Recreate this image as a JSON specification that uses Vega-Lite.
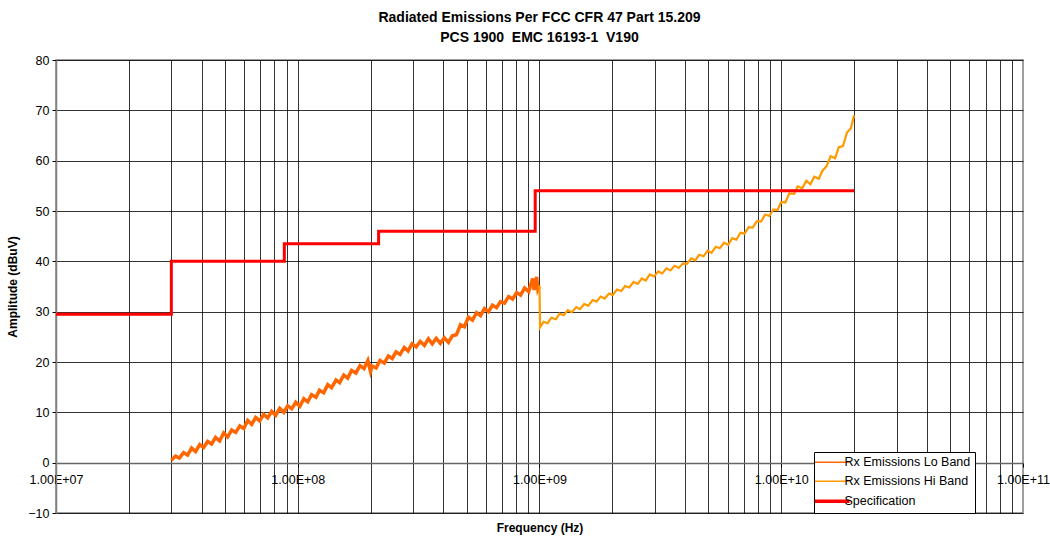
{
  "$schema": "https://vega.github.io/schema/vega-lite/v6.json",
  "autosize": "none",
  "width": 967,
  "height": 453,
  "padding": {"left": 56, "top": 60, "right": 27, "bottom": 33},
  "background": "white",
  "config": {
    "font": "Liberation Sans",
    "view": {"stroke": "#808080", "strokeWidth": 1.5},
    "axis": {"labelFont": "Liberation Sans", "titleFont": "Liberation Sans", "labelFontSize": 12.5, "titleFontSize": 12, "labelColor": "#000", "titleColor": "#000"}
  },
  "title": {
    "text": ["Radiated Emissions Per FCC CFR 47 Part 15.209", "PCS 1900\u00a0 EMC 16193-1\u00a0 V190"],
    "fontSize": 14,
    "fontWeight": "bold",
    "font": "Liberation Sans",
    "color": "#000",
    "anchor": "middle",
    "frame": "group",
    "lineHeight": 20,
    "offset": 9
  },
  "datasets": {
    "em": [
      {"series": "Rx Emissions Lo Band", "f": 3.00e7, "v": 0.5},
      {"series": "Rx Emissions Lo Band", "f": 3.12e7, "v": 1.3},
      {"series": "Rx Emissions Lo Band", "f": 3.24e7, "v": 0.9},
      {"series": "Rx Emissions Lo Band", "f": 3.37e7, "v": 2.0},
      {"series": "Rx Emissions Lo Band", "f": 3.50e7, "v": 1.5},
      {"series": "Rx Emissions Lo Band", "f": 3.64e7, "v": 2.9},
      {"series": "Rx Emissions Lo Band", "f": 3.78e7, "v": 2.2},
      {"series": "Rx Emissions Lo Band", "f": 3.93e7, "v": 3.6},
      {"series": "Rx Emissions Lo Band", "f": 4.08e7, "v": 3.0},
      {"series": "Rx Emissions Lo Band", "f": 4.24e7, "v": 4.2},
      {"series": "Rx Emissions Lo Band", "f": 4.40e7, "v": 3.7},
      {"series": "Rx Emissions Lo Band", "f": 4.57e7, "v": 5.0},
      {"series": "Rx Emissions Lo Band", "f": 4.75e7, "v": 4.3},
      {"series": "Rx Emissions Lo Band", "f": 4.94e7, "v": 5.9},
      {"series": "Rx Emissions Lo Band", "f": 5.13e7, "v": 5.1},
      {"series": "Rx Emissions Lo Band", "f": 5.33e7, "v": 6.5},
      {"series": "Rx Emissions Lo Band", "f": 5.54e7, "v": 6.0},
      {"series": "Rx Emissions Lo Band", "f": 5.76e7, "v": 7.3},
      {"series": "Rx Emissions Lo Band", "f": 5.98e7, "v": 6.8},
      {"series": "Rx Emissions Lo Band", "f": 6.21e7, "v": 8.4},
      {"series": "Rx Emissions Lo Band", "f": 6.45e7, "v": 7.6},
      {"series": "Rx Emissions Lo Band", "f": 6.70e7, "v": 9.0},
      {"series": "Rx Emissions Lo Band", "f": 6.96e7, "v": 8.3},
      {"series": "Rx Emissions Lo Band", "f": 7.23e7, "v": 9.6},
      {"series": "Rx Emissions Lo Band", "f": 7.51e7, "v": 8.9},
      {"series": "Rx Emissions Lo Band", "f": 7.80e7, "v": 10.2},
      {"series": "Rx Emissions Lo Band", "f": 8.10e7, "v": 9.4},
      {"series": "Rx Emissions Lo Band", "f": 8.42e7, "v": 10.8},
      {"series": "Rx Emissions Lo Band", "f": 8.75e7, "v": 10.0},
      {"series": "Rx Emissions Lo Band", "f": 9.09e7, "v": 11.3},
      {"series": "Rx Emissions Lo Band", "f": 9.44e7, "v": 10.7},
      {"series": "Rx Emissions Lo Band", "f": 9.81e7, "v": 12.0},
      {"series": "Rx Emissions Lo Band", "f": 1.02e8, "v": 11.2},
      {"series": "Rx Emissions Lo Band", "f": 1.06e8, "v": 12.7},
      {"series": "Rx Emissions Lo Band", "f": 1.10e8, "v": 12.1},
      {"series": "Rx Emissions Lo Band", "f": 1.14e8, "v": 13.5},
      {"series": "Rx Emissions Lo Band", "f": 1.19e8, "v": 13.0},
      {"series": "Rx Emissions Lo Band", "f": 1.23e8, "v": 14.4},
      {"series": "Rx Emissions Lo Band", "f": 1.28e8, "v": 13.9},
      {"series": "Rx Emissions Lo Band", "f": 1.33e8, "v": 15.5},
      {"series": "Rx Emissions Lo Band", "f": 1.38e8, "v": 14.9},
      {"series": "Rx Emissions Lo Band", "f": 1.44e8, "v": 16.4},
      {"series": "Rx Emissions Lo Band", "f": 1.49e8, "v": 15.9},
      {"series": "Rx Emissions Lo Band", "f": 1.55e8, "v": 17.4},
      {"series": "Rx Emissions Lo Band", "f": 1.61e8, "v": 16.8},
      {"series": "Rx Emissions Lo Band", "f": 1.67e8, "v": 18.3},
      {"series": "Rx Emissions Lo Band", "f": 1.74e8, "v": 17.8},
      {"series": "Rx Emissions Lo Band", "f": 1.81e8, "v": 19.3},
      {"series": "Rx Emissions Lo Band", "f": 1.88e8, "v": 18.7},
      {"series": "Rx Emissions Lo Band", "f": 1.95e8, "v": 20.3},
      {"series": "Rx Emissions Lo Band", "f": 2.00e8, "v": 18.1},
      {"series": "Rx Emissions Lo Band", "f": 2.03e8, "v": 19.2},
      {"series": "Rx Emissions Lo Band", "f": 2.11e8, "v": 18.8},
      {"series": "Rx Emissions Lo Band", "f": 2.19e8, "v": 20.3},
      {"series": "Rx Emissions Lo Band", "f": 2.28e8, "v": 19.8},
      {"series": "Rx Emissions Lo Band", "f": 2.37e8, "v": 21.2},
      {"series": "Rx Emissions Lo Band", "f": 2.46e8, "v": 20.7},
      {"series": "Rx Emissions Lo Band", "f": 2.55e8, "v": 22.0},
      {"series": "Rx Emissions Lo Band", "f": 2.65e8, "v": 21.5},
      {"series": "Rx Emissions Lo Band", "f": 2.76e8, "v": 22.9},
      {"series": "Rx Emissions Lo Band", "f": 2.86e8, "v": 22.2},
      {"series": "Rx Emissions Lo Band", "f": 2.97e8, "v": 23.6},
      {"series": "Rx Emissions Lo Band", "f": 3.09e8, "v": 23.0},
      {"series": "Rx Emissions Lo Band", "f": 3.21e8, "v": 24.1},
      {"series": "Rx Emissions Lo Band", "f": 3.34e8, "v": 23.3},
      {"series": "Rx Emissions Lo Band", "f": 3.47e8, "v": 24.6},
      {"series": "Rx Emissions Lo Band", "f": 3.60e8, "v": 23.6},
      {"series": "Rx Emissions Lo Band", "f": 3.74e8, "v": 24.7},
      {"series": "Rx Emissions Lo Band", "f": 3.89e8, "v": 23.7},
      {"series": "Rx Emissions Lo Band", "f": 4.04e8, "v": 24.8},
      {"series": "Rx Emissions Lo Band", "f": 4.20e8, "v": 23.9},
      {"series": "Rx Emissions Lo Band", "f": 4.36e8, "v": 25.2},
      {"series": "Rx Emissions Lo Band", "f": 4.53e8, "v": 25.4},
      {"series": "Rx Emissions Lo Band", "f": 4.71e8, "v": 27.4},
      {"series": "Rx Emissions Lo Band", "f": 4.89e8, "v": 27.0},
      {"series": "Rx Emissions Lo Band", "f": 5.08e8, "v": 28.9},
      {"series": "Rx Emissions Lo Band", "f": 5.28e8, "v": 28.3},
      {"series": "Rx Emissions Lo Band", "f": 5.49e8, "v": 29.8},
      {"series": "Rx Emissions Lo Band", "f": 5.70e8, "v": 29.2},
      {"series": "Rx Emissions Lo Band", "f": 5.92e8, "v": 30.6},
      {"series": "Rx Emissions Lo Band", "f": 6.15e8, "v": 30.0},
      {"series": "Rx Emissions Lo Band", "f": 6.39e8, "v": 31.3},
      {"series": "Rx Emissions Lo Band", "f": 6.64e8, "v": 30.8},
      {"series": "Rx Emissions Lo Band", "f": 6.90e8, "v": 32.0},
      {"series": "Rx Emissions Lo Band", "f": 7.17e8, "v": 31.7},
      {"series": "Rx Emissions Lo Band", "f": 7.45e8, "v": 33.0},
      {"series": "Rx Emissions Lo Band", "f": 7.74e8, "v": 32.5},
      {"series": "Rx Emissions Lo Band", "f": 8.04e8, "v": 33.8},
      {"series": "Rx Emissions Lo Band", "f": 8.36e8, "v": 33.3},
      {"series": "Rx Emissions Lo Band", "f": 8.68e8, "v": 34.7},
      {"series": "Rx Emissions Lo Band", "f": 9.02e8, "v": 34.0},
      {"series": "Rx Emissions Lo Band", "f": 9.37e8, "v": 36.6},
      {"series": "Rx Emissions Lo Band", "f": 9.50e8, "v": 34.3},
      {"series": "Rx Emissions Lo Band", "f": 9.73e8, "v": 36.9},
      {"series": "Rx Emissions Lo Band", "f": 9.85e8, "v": 34.4},
      {"series": "Rx Emissions Lo Band", "f": 9.98e8, "v": 35.0},
      {"series": "Rx Emissions Hi Band", "f": 1.000e9, "v": 35.2},
      {"series": "Rx Emissions Hi Band", "f": 1.005e9, "v": 26.9},
      {"series": "Rx Emissions Hi Band", "f": 1.04e9, "v": 28.0},
      {"series": "Rx Emissions Hi Band", "f": 1.08e9, "v": 27.7},
      {"series": "Rx Emissions Hi Band", "f": 1.12e9, "v": 28.8},
      {"series": "Rx Emissions Hi Band", "f": 1.17e9, "v": 28.5},
      {"series": "Rx Emissions Hi Band", "f": 1.21e9, "v": 29.6},
      {"series": "Rx Emissions Hi Band", "f": 1.26e9, "v": 29.3},
      {"series": "Rx Emissions Hi Band", "f": 1.31e9, "v": 30.3},
      {"series": "Rx Emissions Hi Band", "f": 1.36e9, "v": 29.9},
      {"series": "Rx Emissions Hi Band", "f": 1.42e9, "v": 30.9},
      {"series": "Rx Emissions Hi Band", "f": 1.47e9, "v": 30.5},
      {"series": "Rx Emissions Hi Band", "f": 1.53e9, "v": 31.5},
      {"series": "Rx Emissions Hi Band", "f": 1.59e9, "v": 31.2},
      {"series": "Rx Emissions Hi Band", "f": 1.66e9, "v": 32.3},
      {"series": "Rx Emissions Hi Band", "f": 1.72e9, "v": 32.0},
      {"series": "Rx Emissions Hi Band", "f": 1.79e9, "v": 33.0},
      {"series": "Rx Emissions Hi Band", "f": 1.86e9, "v": 32.6},
      {"series": "Rx Emissions Hi Band", "f": 1.94e9, "v": 33.6},
      {"series": "Rx Emissions Hi Band", "f": 2.01e9, "v": 33.3},
      {"series": "Rx Emissions Hi Band", "f": 2.09e9, "v": 34.4},
      {"series": "Rx Emissions Hi Band", "f": 2.18e9, "v": 34.1},
      {"series": "Rx Emissions Hi Band", "f": 2.26e9, "v": 35.1},
      {"series": "Rx Emissions Hi Band", "f": 2.35e9, "v": 34.8},
      {"series": "Rx Emissions Hi Band", "f": 2.45e9, "v": 35.9},
      {"series": "Rx Emissions Hi Band", "f": 2.55e9, "v": 35.5},
      {"series": "Rx Emissions Hi Band", "f": 2.65e9, "v": 36.6},
      {"series": "Rx Emissions Hi Band", "f": 2.75e9, "v": 36.2},
      {"series": "Rx Emissions Hi Band", "f": 2.86e9, "v": 37.4},
      {"series": "Rx Emissions Hi Band", "f": 2.98e9, "v": 37.0},
      {"series": "Rx Emissions Hi Band", "f": 3.10e9, "v": 38.0},
      {"series": "Rx Emissions Hi Band", "f": 3.22e9, "v": 37.6},
      {"series": "Rx Emissions Hi Band", "f": 3.35e9, "v": 38.6},
      {"series": "Rx Emissions Hi Band", "f": 3.48e9, "v": 38.2},
      {"series": "Rx Emissions Hi Band", "f": 3.62e9, "v": 39.1},
      {"series": "Rx Emissions Hi Band", "f": 3.77e9, "v": 38.7},
      {"series": "Rx Emissions Hi Band", "f": 3.92e9, "v": 39.6},
      {"series": "Rx Emissions Hi Band", "f": 4.07e9, "v": 39.5},
      {"series": "Rx Emissions Hi Band", "f": 4.24e9, "v": 40.6},
      {"series": "Rx Emissions Hi Band", "f": 4.41e9, "v": 40.2},
      {"series": "Rx Emissions Hi Band", "f": 4.58e9, "v": 41.3},
      {"series": "Rx Emissions Hi Band", "f": 4.77e9, "v": 41.0},
      {"series": "Rx Emissions Hi Band", "f": 4.96e9, "v": 42.1},
      {"series": "Rx Emissions Hi Band", "f": 5.15e9, "v": 41.7},
      {"series": "Rx Emissions Hi Band", "f": 5.36e9, "v": 42.9},
      {"series": "Rx Emissions Hi Band", "f": 5.57e9, "v": 42.6},
      {"series": "Rx Emissions Hi Band", "f": 5.80e9, "v": 43.7},
      {"series": "Rx Emissions Hi Band", "f": 6.03e9, "v": 43.3},
      {"series": "Rx Emissions Hi Band", "f": 6.27e9, "v": 44.6},
      {"series": "Rx Emissions Hi Band", "f": 6.52e9, "v": 44.3},
      {"series": "Rx Emissions Hi Band", "f": 6.78e9, "v": 45.7},
      {"series": "Rx Emissions Hi Band", "f": 7.05e9, "v": 45.5},
      {"series": "Rx Emissions Hi Band", "f": 7.33e9, "v": 46.8},
      {"series": "Rx Emissions Hi Band", "f": 7.62e9, "v": 46.7},
      {"series": "Rx Emissions Hi Band", "f": 7.93e9, "v": 48.0},
      {"series": "Rx Emissions Hi Band", "f": 8.25e9, "v": 47.9},
      {"series": "Rx Emissions Hi Band", "f": 8.58e9, "v": 49.3},
      {"series": "Rx Emissions Hi Band", "f": 8.92e9, "v": 49.0},
      {"series": "Rx Emissions Hi Band", "f": 9.28e9, "v": 50.3},
      {"series": "Rx Emissions Hi Band", "f": 9.65e9, "v": 50.2},
      {"series": "Rx Emissions Hi Band", "f": 1.00e10, "v": 51.8},
      {"series": "Rx Emissions Hi Band", "f": 1.04e10, "v": 51.7},
      {"series": "Rx Emissions Hi Band", "f": 1.08e10, "v": 53.5},
      {"series": "Rx Emissions Hi Band", "f": 1.13e10, "v": 53.4},
      {"series": "Rx Emissions Hi Band", "f": 1.17e10, "v": 54.9},
      {"series": "Rx Emissions Hi Band", "f": 1.22e10, "v": 54.5},
      {"series": "Rx Emissions Hi Band", "f": 1.27e10, "v": 56.0},
      {"series": "Rx Emissions Hi Band", "f": 1.32e10, "v": 55.3},
      {"series": "Rx Emissions Hi Band", "f": 1.37e10, "v": 56.8},
      {"series": "Rx Emissions Hi Band", "f": 1.43e10, "v": 56.4},
      {"series": "Rx Emissions Hi Band", "f": 1.48e10, "v": 58.0},
      {"series": "Rx Emissions Hi Band", "f": 1.54e10, "v": 58.9},
      {"series": "Rx Emissions Hi Band", "f": 1.60e10, "v": 60.9},
      {"series": "Rx Emissions Hi Band", "f": 1.67e10, "v": 60.5},
      {"series": "Rx Emissions Hi Band", "f": 1.73e10, "v": 62.7},
      {"series": "Rx Emissions Hi Band", "f": 1.80e10, "v": 62.9},
      {"series": "Rx Emissions Hi Band", "f": 1.87e10, "v": 65.6},
      {"series": "Rx Emissions Hi Band", "f": 1.94e10, "v": 66.4},
      {"series": "Rx Emissions Hi Band", "f": 2.00e10, "v": 69.0}
    ],
    "spec": [
      {"series": "Specification", "f": 1.0e7, "v": 29.5},
      {"series": "Specification", "f": 3.0e7, "v": 40.0},
      {"series": "Specification", "f": 8.8e7, "v": 43.5},
      {"series": "Specification", "f": 2.16e8, "v": 46.0},
      {"series": "Specification", "f": 9.6e8, "v": 54.0},
      {"series": "Specification", "f": 2.0e10, "v": 54.0}
    ]
  },
  "encoding": {
    "y": {
      "field": "v",
      "type": "quantitative",
      "scale": {"domain": [-10, 80], "nice": false, "zero": false},
      "axis": {
        "values": [-10, 0, 10, 20, 30, 40, 50, 60, 70, 80],
        "grid": true,
        "gridColor": "#000",
        "gridOpacity": 0.8,
        "gridWidth": 1,
        "tickColor": "#000",
        "tickSize": 4,
        "labelPadding": 3,
        "domainColor": "#808080",
        "domainWidth": 1.5,
        "title": "Amplitude (dBuV)",
        "titleFontWeight": "bold",
        "titlePadding": 8
      }
    },
    "color": {
      "field": "series",
      "type": "nominal",
      "scale": {
        "domain": ["Rx Emissions Lo Band", "Rx Emissions Hi Band", "Specification"],
        "range": ["#FF6600", "#FF9900", "#FF0000"]
      },
      "legend": {
        "orient": "none",
        "legendX": 758,
        "legendY": 392,
        "title": null,
        "symbolType": "stroke",
        "symbolSize": 1200,
        "symbolOffset": 8,
        "symbolStrokeWidth": 1.4,
        "symbolOpacity": 1,
        "labelFont": "Liberation Sans",
        "labelFontSize": 12.5,
        "labelColor": "#000",
        "labelOffset": 6,
        "fillColor": "#fff",
        "strokeColor": "#000",
        "padding": 4,
        "rowPadding": 6,
        "encode": {"symbols": {"update": {"strokeWidth": {"signal": "datum.label === 'Specification' ? 3.5 : 1.4"}}}}
      }
    }
  },
  "layer": [
    {
      "data": {"name": "em"},
      "transform": [{"filter": "datum.series === 'Rx Emissions Lo Band'"}],
      "mark": {"type": "line", "strokeWidth": 3.5, "clip": true},
      "encoding": {
        "x": {
          "field": "f",
          "type": "quantitative",
          "scale": {"type": "log", "domain": [1e7, 1e11], "nice": false},
          "axis": {
            "orient": "bottom",
            "values": [2e7, 3e7, 4e7, 5e7, 6e7, 7e7, 8e7, 9e7, 1e8, 2e8, 3e8, 4e8, 5e8, 6e8, 7e8, 8e8, 9e8, 1e9, 2e9, 3e9, 4e9, 5e9, 6e9, 7e9, 8e9, 9e9, 1e10, 2e10, 3e10, 4e10, 5e10, 6e10, 7e10, 8e10, 9e10],
            "grid": true,
            "gridColor": "#000",
            "gridOpacity": 0.8,
            "gridWidth": 1,
            "ticks": false,
            "labels": false,
            "domain": false,
            "title": null
          }
        }
      }
    },
    {
      "data": {"name": "em"},
      "transform": [{"filter": "datum.series === 'Rx Emissions Hi Band'"}],
      "mark": {"type": "line", "strokeWidth": 2.2, "clip": true},
      "encoding": {
        "x": {"field": "f", "type": "quantitative", "axis": null}
      }
    },
    {
      "data": {"name": "spec"},
      "mark": {"type": "line", "strokeWidth": 3, "interpolate": "step-after", "clip": true},
      "encoding": {
        "x": {
          "field": "f",
          "type": "quantitative",
          "axis": {
            "orient": "bottom",
            "values": [1e7, 1e8, 1e9, 1e10, 1e11],
            "offset": -50,
            "grid": false,
            "domain": true,
            "domainColor": "#666",
            "domainWidth": 1.5,
            "tickColor": "#000",
            "tickSize": 4,
            "labelPadding": 6,
            "labelFlush": false,
            "labelOverlap": false,
            "labelExpr": "'1.00E+' + (datum.value < 1e10 ? '0' : '') + round(log(datum.value) / LN10)",
            "title": "Frequency (Hz)",
            "titleFontWeight": "bold",
            "titlePadding": 37
          }
        }
      }
    }
  ],
  "resolve": {"axis": {"x": "independent"}}
}
